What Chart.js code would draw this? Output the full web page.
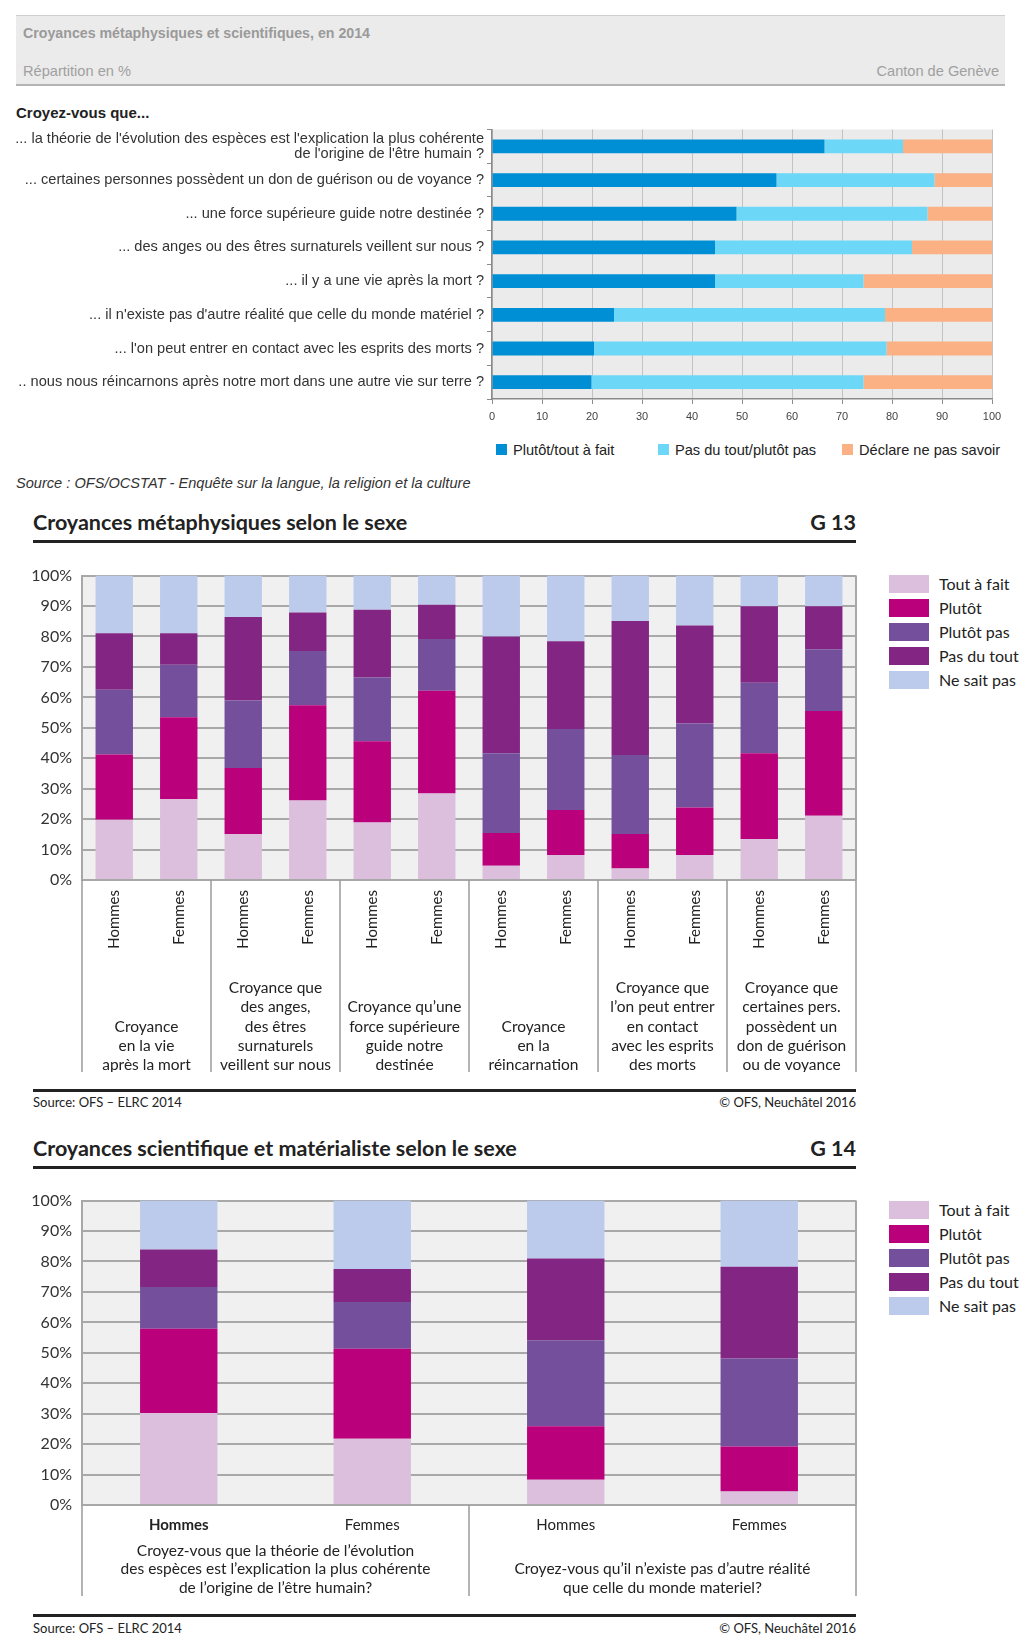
<!DOCTYPE html>
<html lang="fr">
<head>
<meta charset="utf-8">
<title>Croyances métaphysiques et scientifiques</title>
<script src="https://cdn.jsdelivr.net/npm/chart.js@4.4.1/dist/chart.umd.min.js"></script>
<style>
  body { margin: 0; background: #fff; }
  #page { position: relative; width: 1027px; height: 1649px; overflow: hidden; font-family: "Liberation Sans", Arial, sans-serif; color: #222; }
  .t { position: absolute; white-space: nowrap; }
  .ofs { font-family: Lato, "Noto Sans", sans-serif; }
  canvas { position: absolute; left: 0; }
  .rule { position: absolute; left: 33px; width: 823px; height: 3px; background: #222; }
  .leg { position: absolute; left: 889px; font-family: Lato, sans-serif; font-size: 16px; }
  .leg div { height: 24px; position: relative; }
  .leg span.sw { position: absolute; left: 0; top: 0; width: 40px; height: 18px; }
  .leg span.lb { position: absolute; left: 50px; top: -1px; line-height: 20px; white-space: nowrap; }
  #topLegend { position: absolute; top: 442px; left: 0; font-size: 14.6px; }
  #topLegend div { position: absolute; white-space: nowrap; line-height: 16px; }
  #topLegend span { position: absolute; left: -17px; top: 2px; width: 11px; height: 11px; }
</style>
</head>
<body>
<div id="page">
  <!-- en-tête OCSTAT -->
  <div style="position:absolute;left:16px;top:15px;width:989px;height:68px;background:#ebebeb;border-top:1px solid #cfcfcf;border-bottom:2px solid #b4b4b4;"></div>
  <div class="t" style="left:23px;top:25px;font-size:14.2px;font-weight:bold;color:#9a9a9a;line-height:16px;">Croyances métaphysiques et scientifiques, en 2014</div>
  <div class="t" style="left:23px;top:63px;font-size:14.6px;color:#a0a0a0;line-height:16px;">Répartition en %</div>
  <div class="t" style="right:28px;top:63px;font-size:14.6px;color:#a0a0a0;line-height:16px;">Canton de Genève</div>
  <div class="t" style="left:16px;top:104px;font-size:15px;font-weight:bold;line-height:17px;">Croyez-vous que...</div>
  <canvas id="topChart" width="1010" height="310" style="top:119px;width:1010px;height:310px;"></canvas>
  <div id="topLegend"></div>
  <div class="t" style="left:16px;top:475px;font-size:14.6px;font-style:italic;color:#333;line-height:16px;">Source : OFS/OCSTAT - Enquête sur la langue, la religion et la culture</div>

  <!-- G 13 -->
  <div class="t ofs" style="left:33px;top:510px;font-size:21.5px;font-weight:bold;line-height:25px;">Croyances métaphysiques selon le sexe</div>
  <div class="t ofs" style="right:171px;top:510px;font-size:21.5px;font-weight:bold;line-height:25px;">G 13</div>
  <div class="rule" style="top:540px;"></div>
  <canvas id="g13Chart" width="870" height="516" style="top:556px;width:870px;height:516px;"></canvas>
  <div class="leg" id="g13Legend" style="top:575px;"></div>
  <div class="rule" style="top:1089px;"></div>
  <div class="t ofs" style="left:33px;top:1094px;font-size:13px;line-height:16px;">Source: OFS – ELRC 2014</div>
  <div class="t ofs" style="right:171px;top:1094px;font-size:13px;line-height:16px;">© OFS, Neuchâtel 2016</div>

  <!-- G 14 -->
  <div class="t ofs" style="left:33px;top:1136px;font-size:21.5px;font-weight:bold;line-height:25px;">Croyances scientifique et matérialiste selon le sexe</div>
  <div class="t ofs" style="right:171px;top:1136px;font-size:21.5px;font-weight:bold;line-height:25px;">G 14</div>
  <div class="rule" style="top:1166px;"></div>
  <canvas id="g14Chart" width="870" height="415" style="top:1181px;width:870px;height:415px;"></canvas>
  <div class="leg" id="g14Legend" style="top:1201px;"></div>
  <div class="rule" style="top:1614px;"></div>
  <div class="t ofs" style="left:33px;top:1620px;font-size:13px;line-height:16px;">Source: OFS – ELRC 2014</div>
  <div class="t ofs" style="right:171px;top:1620px;font-size:13px;line-height:16px;">© OFS, Neuchâtel 2016</div>
</div>

<script>
// --- graphique OCSTAT (barres horizontales) ---
const topCategories = [
  ["... la théorie de l'évolution des espèces est l'explication la plus cohérente", "de l'origine de l'être humain ?"],
  "... certaines personnes possèdent un don de guérison ou de voyance ?",
  "... une force supérieure guide notre destinée ?",
  "... des anges ou des êtres surnaturels veillent sur nous ?",
  "... il y a une vie après la mort ?",
  "... il n'existe pas d'autre réalité que celle du monde matériel ?",
  "... l'on peut entrer en contact avec les esprits des morts ?",
  ".. nous nous réincarnons après notre mort dans une autre vie sur terre ?"
];
const topSeries = ["Plutôt/tout à fait", "Pas du tout/plutôt pas", "Déclare ne pas savoir"];
const topColors = ["#008fd4", "#6dd7f7", "#fbb184"];
const topOui = [66.5, 56.9, 48.9, 44.6, 44.6, 24.4, 20.4, 19.9];
const topNon = [15.7, 31.6, 38.2, 39.4, 29.7, 54.2, 58.5, 54.4];
const topNeSaitPas = [17.8, 11.5, 12.9, 16.0, 25.7, 21.4, 21.1, 25.7];
const topTicks = [0, 10, 20, 30, 40, 50, 60, 70, 80, 90, 100];

// --- G 13 ---
const g13Categories = ["Hommes", "Femmes", "Hommes", "Femmes", "Hommes", "Femmes",
                       "Hommes", "Femmes", "Hommes", "Femmes", "Hommes", "Femmes"];
const g13Groups = [
  ["Croyance", "en la vie", "après la mort"],
  ["Croyance que", "des anges,", "des êtres", "surnaturels", "veillent sur nous"],
  ["Croyance qu’une", "force supérieure", "guide notre", "destinée"],
  ["Croyance", "en la", "réincarnation"],
  ["Croyance que", "l’on peut entrer", "en contact", "avec les esprits", "des morts"],
  ["Croyance que", "certaines pers.", "possèdent un", "don de guérison", "ou de voyance"]
];
const g13ToutAFait = [19.8, 26.5, 15.0, 26.1, 18.9, 28.4, 4.7, 8.2, 3.8, 8.2, 13.5, 21.1];
const g13Plutot    = [21.4, 27.0, 21.8, 31.3, 26.7, 33.8, 10.7, 14.8, 11.3, 15.6, 28.1, 34.4];
const g13PlutotPas = [21.3, 17.2, 22.2, 17.8, 20.9, 17.0, 26.2, 26.6, 26.0, 27.6, 23.2, 20.3];
const g13PasDuTout = [18.6, 10.4, 27.4, 12.7, 22.3, 11.2, 38.4, 28.8, 44.0, 32.2, 25.1, 14.1];
const g13NeSaitPas = [18.9, 18.9, 13.6, 12.1, 11.2, 9.6, 20.0, 21.6, 14.9, 16.4, 10.1, 10.1];

// --- G 14 ---
const g14Categories = ["Hommes", "Femmes", "Hommes", "Femmes"];
const g14Groups = [
  ["Croyez-vous que la théorie de l’évolution", "des espèces est l’explication la plus cohérente", "de l’origine de l’être humain?"],
  ["Croyez-vous qu’il n’existe pas d’autre réalité", "que celle du monde materiel?"]
];
const g14ToutAFait = [30.2, 21.8, 8.3, 4.4];
const g14Plutot    = [27.7, 29.5, 17.6, 14.8];
const g14PlutotPas = [13.7, 15.4, 28.2, 28.9];
const g14PasDuTout = [12.3, 10.8, 26.9, 30.2];
const g14NeSaitPas = [16.1, 22.5, 19.0, 21.7];

const ofsSeries = ["Tout à fait", "Plutôt", "Plutôt pas", "Pas du tout", "Ne sait pas"];
const ofsColors = ["#dcbfdd", "#bb007c", "#744f9b", "#832683", "#bccbeb"];
const ofsTicks = [0, 10, 20, 30, 40, 50, 60, 70, 80, 90, 100];

// fond gris de la zone de tracé + cadre droit
const plotBackground = {
  id: "plotBackground",
  beforeDraw(chart, args, opts) {
    const a = chart.chartArea;
    const ctx = chart.ctx;
    ctx.save();
    ctx.fillStyle = opts.color;
    ctx.fillRect(a.left, a.top, a.right - a.left, a.bottom - a.top);
    ctx.restore();
  },
  afterDraw(chart, args, opts) {
    if (!opts.rightBorder) return;
    const a = chart.chartArea;
    const ctx = chart.ctx;
    ctx.save();
    ctx.strokeStyle = opts.rightBorder;
    ctx.lineWidth = 2;
    ctx.beginPath();
    ctx.moveTo(a.right, a.top);
    ctx.lineTo(a.right, a.bottom);
    ctx.stroke();
    ctx.restore();
  }
};

// libellés de groupes sous l'axe x, avec séparateurs verticaux
const groupLabels = {
  id: "groupLabels",
  afterDraw(chart, args, opts) {
    if (!opts.groups) return;
    const x = chart.scales.x;
    const a = chart.chartArea;
    const ctx = chart.ctx;
    const per = x.ticks.length / opts.groups.length;
    const bottom = chart.height;
    ctx.save();
    ctx.strokeStyle = "#9a9a9a";
    ctx.lineWidth = 1.5;
    for (let g = 0; g <= opts.groups.length; g++) {
      let px;
      if (g === 0) px = a.left;
      else if (g === opts.groups.length) px = a.right;
      else px = (x.getPixelForValue(g * per - 1) + x.getPixelForValue(g * per)) / 2;
      ctx.beginPath();
      ctx.moveTo(px, a.bottom);
      ctx.lineTo(px, bottom);
      ctx.stroke();
    }
    ctx.fillStyle = "#222";
    ctx.font = opts.font;
    ctx.textAlign = "center";
    ctx.textBaseline = "middle";
    opts.groups.forEach((lines, g) => {
      const cx = (x.getPixelForValue(g * per) + x.getPixelForValue(g * per + per - 1)) / 2;
      const n = lines.length;
      lines.forEach((line, i) => {
        ctx.fillText(line, cx, a.bottom + opts.lastLine - (n - 1 - i) * opts.lineGap);
      });
    });
    ctx.restore();
  }
};

Chart.register(plotBackground, groupLabels);

// graphique du haut
new Chart(document.getElementById("topChart"), {
  type: "bar",
  data: {
    labels: topCategories,
    datasets: [topOui, topNon, topNeSaitPas].map((d, i) => ({
      label: topSeries[i],
      data: d,
      backgroundColor: topColors[i],
      barPercentage: 0.41,
      categoryPercentage: 1
    }))
  },
  options: {
    indexAxis: "y",
    responsive: false,
    animation: false,
    layout: { padding: { top: 8, right: 18, left: 0, bottom: 0 } },
    plugins: {
      legend: { display: false },
      tooltip: { enabled: false },
      plotBackground: { color: "#ebebeb" },
      groupLabels: {}
    },
    scales: {
      x: {
        stacked: true,
        min: 0,
        max: 100,
        afterBuildTicks: s => { s.ticks = topTicks.map(v => ({ value: v })); },
        afterFit: s => { s.height = 30; },
        grid: { color: "#c2c2c2", lineWidth: 1, tickLength: 5, tickColor: "#8a8a8a" },
        border: { color: "#8a8a8a", width: 1.5 },
        ticks: { color: "#444", padding: 6, font: { family: "Liberation Sans", size: 11 } }
      },
      y: {
        stacked: true,
        afterFit: s => { s.width = 492; },
        grid: { offset: true, drawOnChartArea: false, tickLength: 5, tickColor: "#8a8a8a" },
        border: { color: "#8a8a8a", width: 1.5 },
        ticks: { color: "#333", padding: 3, font: { family: "Liberation Sans", size: 14.6, lineHeight: 1.03 } }
      }
    }
  }
});

function ofsOptions(groups, xHeight, rotated, lastLine, lineGap, tickFont) {
  return {
    responsive: false,
    animation: false,
    layout: { padding: { top: 0, right: 14, left: 0, bottom: 0 } },
    plugins: {
      legend: { display: false },
      tooltip: { enabled: false },
      plotBackground: { color: "#f0f0f0", rightBorder: "#a8a8a8" },
      groupLabels: { groups: groups, font: "15.5px Lato", lastLine: lastLine, lineGap: lineGap }
    },
    scales: {
      x: {
        stacked: true,
        afterFit: s => { s.height = xHeight; },
        grid: { display: false, drawTicks: false },
        border: { display: false },
        ticks: {
          color: "#222",
          autoSkip: false,
          padding: rotated ? 10 : 11,
          minRotation: rotated ? 90 : 0,
          maxRotation: rotated ? 90 : 0,
          font: tickFont
        }
      },
      y: {
        stacked: true,
        min: 0,
        max: 100,
        afterBuildTicks: s => { s.ticks = ofsTicks.map(v => ({ value: v })); },
        afterFit: s => { s.width = 82; },
        grid: { color: "#a8a8a8", lineWidth: 2, drawTicks: false },
        border: { color: "#a8a8a8", width: 2 },
        ticks: { color: "#333", padding: 10, font: { family: "Lato", size: 16 }, callback: v => v + "%" }
      }
    }
  };
}

function ofsDatasets(series, barPct) {
  return series.map((d, i) => ({
    label: ofsSeries[i],
    data: d,
    backgroundColor: ofsColors[i],
    barPercentage: barPct,
    categoryPercentage: 1
  }));
}

new Chart(document.getElementById("g13Chart"), {
  type: "bar",
  data: {
    labels: g13Categories,
    datasets: ofsDatasets([g13ToutAFait, g13Plutot, g13PlutotPas, g13PasDuTout, g13NeSaitPas], 0.58)
  },
  options: ofsOptions(g13Groups, 192, true, 185, 19.2, { family: "Lato", size: 15 })
});

new Chart(document.getElementById("g14Chart"), {
  type: "bar",
  data: {
    labels: g14Categories,
    datasets: ofsDatasets([g14ToutAFait, g14Plutot, g14PlutotPas, g14PasDuTout, g14NeSaitPas], 0.40)
  },
  options: ofsOptions(g14Groups, 91, false, 83, 18.7,
    ctx => ({ family: "Lato", size: 15, weight: ctx.index === 0 ? "bold" : "normal" }))
});

// légendes HTML
function buildLegend(id) {
  const el = document.getElementById(id);
  ofsSeries.forEach((name, i) => {
    const row = document.createElement("div");
    row.innerHTML = '<span class="sw" style="background:' + ofsColors[i] + '"></span><span class="lb">' + name + "</span>";
    el.appendChild(row);
  });
}
buildLegend("g13Legend");
buildLegend("g14Legend");

const topLegendX = [513, 675, 859];
const topLegend = document.getElementById("topLegend");
topSeries.forEach((name, i) => {
  const item = document.createElement("div");
  item.style.left = topLegendX[i] + "px";
  item.innerHTML = '<span style="background:' + topColors[i] + '"></span>' + name;
  topLegend.appendChild(item);
});
</script>
</body>
</html>
